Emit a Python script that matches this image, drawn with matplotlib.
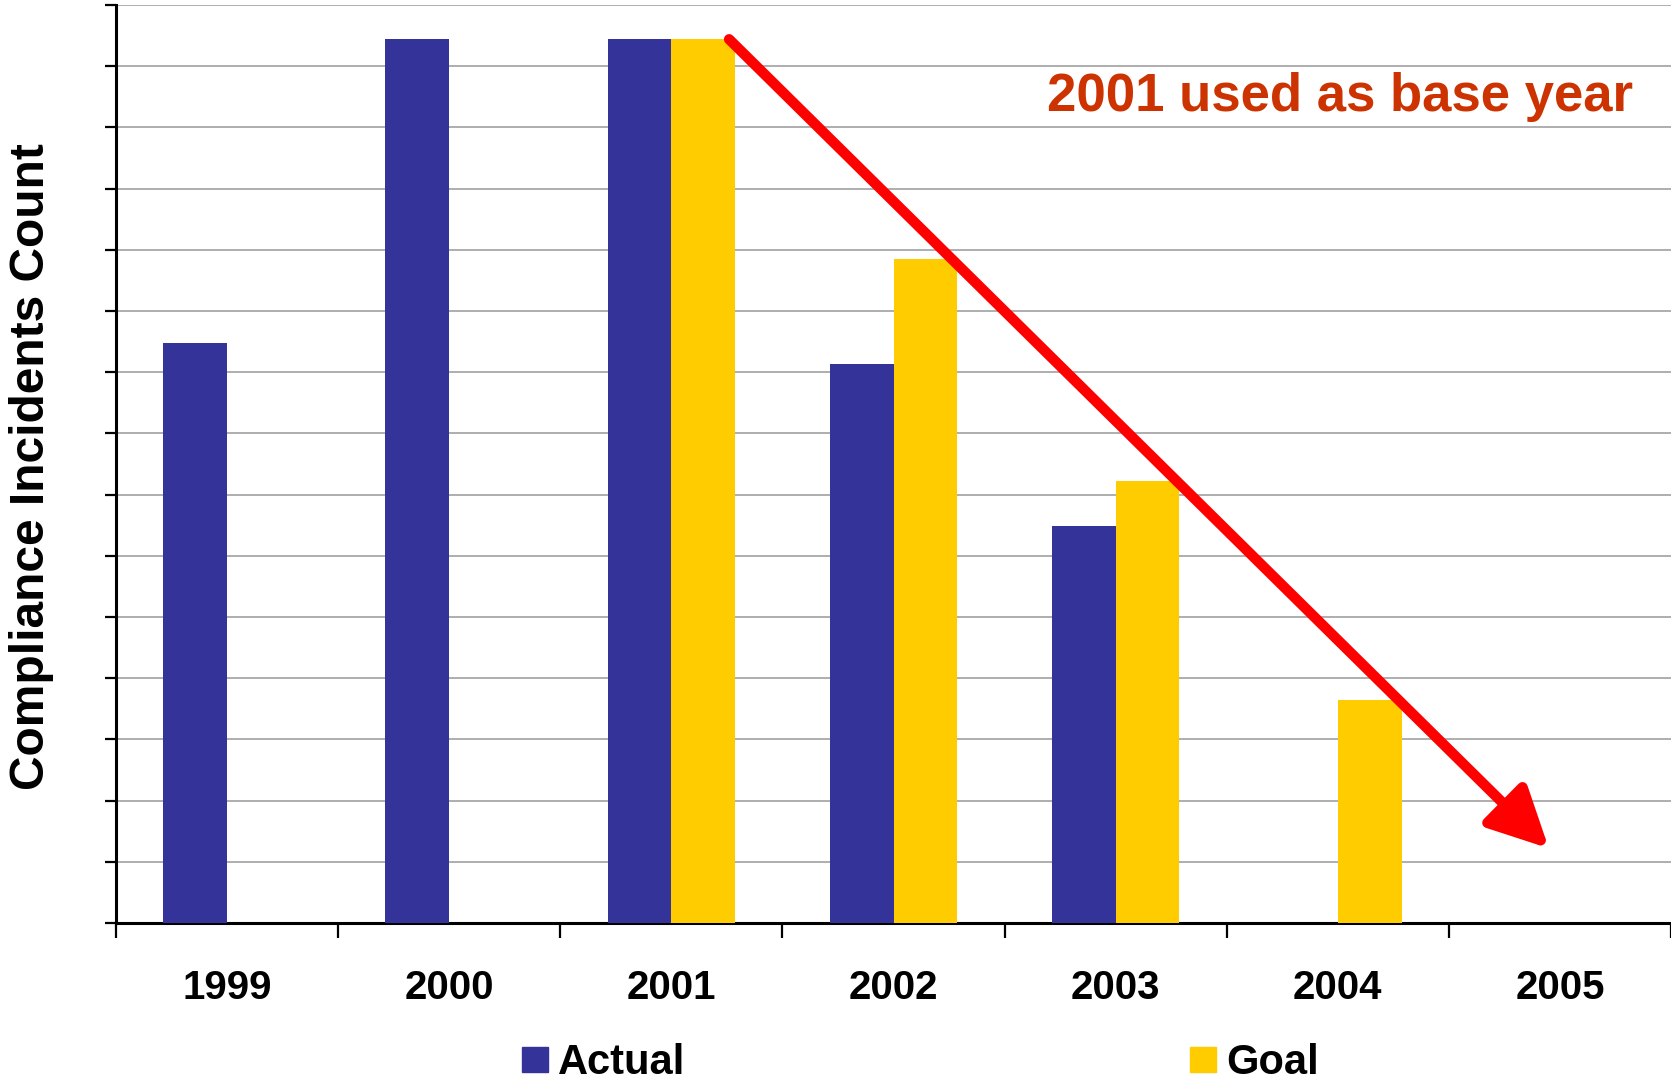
#!/usr/bin/env python3
"""
Compliance incidents: actual vs goal, 2001 as base year.
"""

import numpy as np
import matplotlib
matplotlib.use("Agg")
import matplotlib.pyplot as plt
from matplotlib.patches import FancyArrowPatch, Patch

plt.rcParams["font.family"] = ["Liberation Sans", "DejaVu Sans"]

years = ["1999", "2000", "2001", "2002", "2003", "2004", "2005"]
actual = [9.48, 14.44, 14.44, 9.14, 6.48, 0, 0]
goal = [0, 0, 14.44, 10.85, 7.23, 3.64, 0]

# arrow from the 2001 goal bar down towards 2005
arrow_start = (2.26, 14.44)
arrow_end = (5.95, 1.22)

ACTUAL_COLOR = "#333399"
GOAL_COLOR = "#FFCC00"

fig = plt.figure(figsize=(16.71, 10.81), dpi=100)
ax = fig.add_axes([116 / 1671, 158 / 1081, 1 - 116 / 1671, 918 / 1081])

x = np.arange(len(years))
w = 0.287
ax.bar(x - w / 2, actual, width=w, color=ACTUAL_COLOR, linewidth=0, zorder=3)
ax.bar(x + w / 2, goal, width=w, color=GOAL_COLOR, linewidth=0, zorder=3)

ax.set_xlim(-0.5, len(years) - 0.5)
ax.set_ylim(0, 15)

ax.set_yticks(np.arange(0, 16))
ax.set_yticklabels([])
ax.yaxis.grid(True, color="#999999", linewidth=1.1, zorder=0)
ax.set_axisbelow(True)

# ticks between categories, labels centred under each year
ax.set_xticks(np.arange(-0.5, len(years)), minor=False)
ax.set_xticklabels([])
ax.set_xticks(x, minor=True)
ax.set_xticklabels(years, minor=True, fontsize=29, fontweight="bold")
ax.tick_params(axis="x", which="minor", length=0, pad=33)
ax.tick_params(axis="x", which="major", length=11, width=1.6, direction="out")
ax.tick_params(axis="y", length=8, width=1.6, direction="out")

for side in ["top", "right"]:
    ax.spines[side].set_visible(False)
ax.spines["left"].set_linewidth(2.2)
ax.spines["bottom"].set_linewidth(2.2)

fig.text(32 / 1671, 1 - 467 / 1081, "Compliance Incidents Count", rotation=90,
         ha="center", va="center", fontsize=34.5, fontweight="bold")

ax.text(1340 / 1671, 1 - 97 / 1081, "2001 used as base year", transform=fig.transFigure,
        ha="center", va="center", fontsize=38, fontweight="bold", color="#CC3300")

arrow = FancyArrowPatch(arrow_start, arrow_end,
                        arrowstyle="-|>,head_length=36,head_width=18",
                        mutation_scale=1, linewidth=7.5, color="#FF0000",
                        shrinkA=0, shrinkB=0, zorder=5, capstyle="round")
ax.add_patch(arrow)

handles = [Patch(color=ACTUAL_COLOR, label="Actual"), Patch(color=GOAL_COLOR, label="Goal")]
fig.legend(handles=handles, loc="center left", bbox_to_anchor=(522 / 1671, 1 - 1063 / 1081),
           ncol=2, frameon=False, prop={"weight": "bold", "size": 30},
           handlelength=0.62, handleheight=0.55, handletextpad=0.25,
           columnspacing=12.1, borderpad=0, borderaxespad=0)

plt.savefig("out.png", dpi=100)
plt.close()
